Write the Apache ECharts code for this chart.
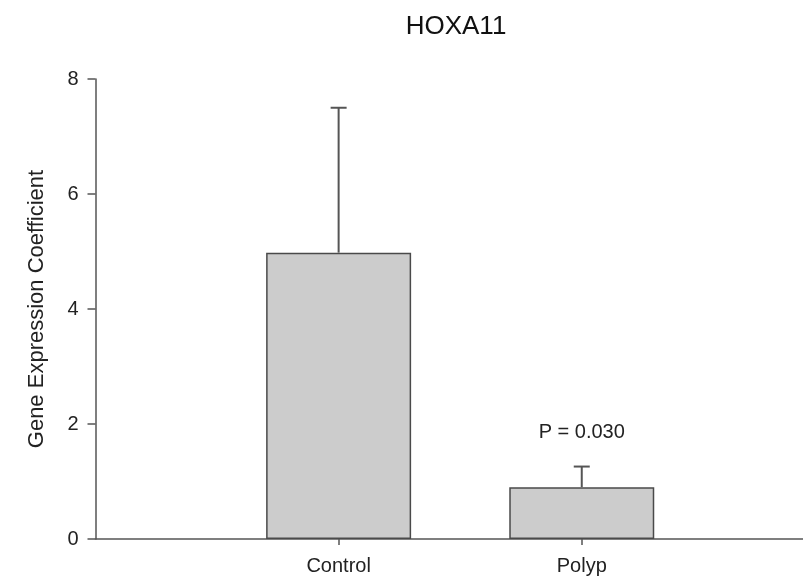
<!DOCTYPE html>
<html>
<head>
<meta charset="utf-8">
<script src="https://cdn.jsdelivr.net/npm/echarts@6/dist/echarts.min.js"></script>
<style>
  html, body { margin: 0; padding: 0; background: #fff; }
  #chart { width: 803px; height: 578px; }
</style>
</head>
<body>
<div id="chart"></div>
<script>
// data
const categories = ['Control', 'Polyp'];
const positions = [1, 2];
const means = [4.98, 0.90];
const upperErr = [7.50, 1.26];
const pLabels = ['', 'P = 0.030'];
const yTicks = [0, 2, 4, 6, 8];

const font = 'Liberation Sans, Arial, sans-serif';
const lineColor = '#555';

const chart = echarts.init(document.getElementById('chart'));

chart.setOption({
  animation: false,
  title: {
    text: 'HOXA11',
    left: 456,
    top: 14,
    padding: 0,
    textAlign: 'center',
    textStyle: { fontFamily: font, fontSize: 26, fontWeight: 'normal', color: '#111' }
  },
  grid: { left: 95.5, right: 0, top: 79, bottom: 39 },
  xAxis: {
    type: 'value',
    min: 0,
    max: 2.91,
    splitLine: { show: false },
    axisLine: { lineStyle: { color: lineColor, width: 1.5 } },
    axisTick: { customValues: positions, length: 6, lineStyle: { color: lineColor, width: 1.5 } },
    axisLabel: {
      customValues: positions,
      margin: 17,
      fontFamily: font,
      fontSize: 20,
      color: '#222',
      formatter: function (v) { return categories[positions.indexOf(v)] || ''; }
    }
  },
  yAxis: {
    type: 'value',
    min: yTicks[0],
    max: yTicks[yTicks.length - 1],
    interval: 2,
    name: 'Gene Expression Coefficient',
    nameLocation: 'middle',
    nameRotate: 90,
    nameGap: 48,
    nameTextStyle: { fontFamily: font, fontSize: 22, color: '#222' },
    splitLine: { show: false },
    axisLine: { lineStyle: { color: lineColor, width: 1.5 } },
    axisTick: { inside: false, length: 8, lineStyle: { color: lineColor, width: 1.5 } },
    axisLabel: { margin: 17, fontFamily: font, fontSize: 20, color: '#222' }
  },
  series: [
    {
      type: 'bar',
      barWidth: 145,
      data: positions.map((p, i) => [p, means[i]]),
      itemStyle: { color: '#cccccc', borderColor: '#4a4a4a', borderWidth: 1.5 },
      z: 2
    },
    {
      type: 'custom',
      z: 3,
      data: positions.map((p, i) => [p, means[i], upperErr[i]]),
      renderItem: function (params, api) {
        const x = api.value(0);
        const base = api.coord([x, api.value(1)]);
        const top = api.coord([x, api.value(2)]);
        const style = { stroke: lineColor, lineWidth: 2 };
        const children = [
          { type: 'line', shape: { x1: base[0], y1: base[1], x2: top[0], y2: top[1] }, style: style },
          { type: 'line', shape: { x1: top[0] - 8, y1: top[1], x2: top[0] + 8, y2: top[1] }, style: style }
        ];
        const label = pLabels[params.dataIndex];
        if (label) {
          children.push({
            type: 'text',
            style: {
              x: top[0], y: top[1] - 34, text: label,
              align: 'center', verticalAlign: 'middle',
              fill: '#222', font: '20px ' + font
            }
          });
        }
        return { type: 'group', children: children };
      }
    }
  ]
});
</script>
</body>
</html>
